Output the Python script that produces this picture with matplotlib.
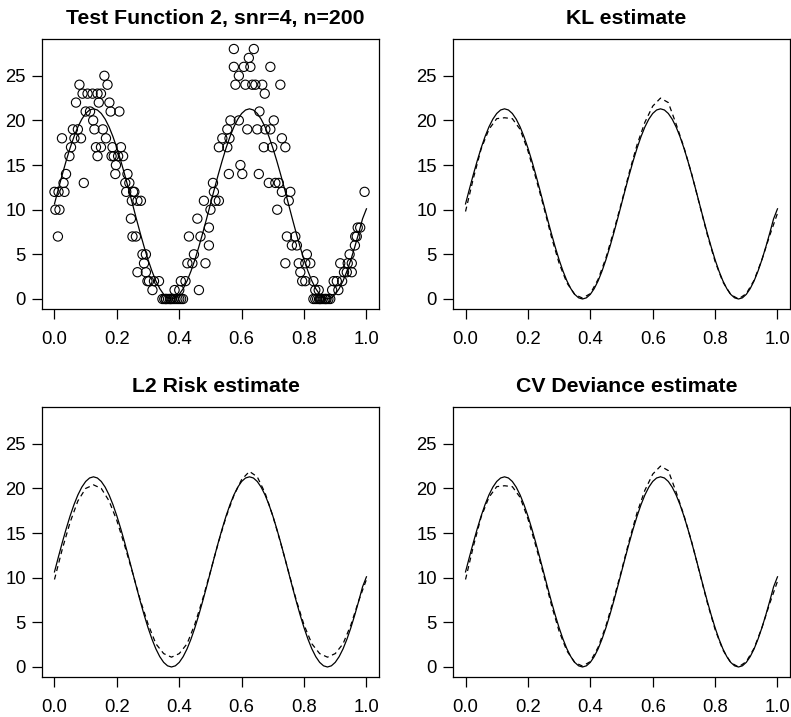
import matplotlib
matplotlib.use("Agg")
import matplotlib.pyplot as plt

plt.rcParams['font.family'] = ['Liberation Sans', 'DejaVu Sans']

# noisy counts
obs_x = [0.000, 0.013, 0.032, 0.003, 0.016, 0.011, 0.024, 0.029, 0.037, 0.048,
         0.053, 0.059, 0.075, 0.064, 0.085, 0.069, 0.080, 0.090, 0.106, 0.122,
         0.138, 0.149, 0.094, 0.114, 0.124, 0.128, 0.155, 0.133, 0.149, 0.138,
         0.160, 0.170, 0.176, 0.180, 0.208, 0.165, 0.186, 0.213, 0.190, 0.204,
         0.220, 0.197, 0.195, 0.234, 0.227, 0.240, 0.256, 0.266, 0.277, 0.245,
         0.250, 0.261, 0.282, 0.293, 0.266, 0.287, 0.298, 0.293, 0.303, 0.319,
         0.335, 0.314, 0.346, 0.352, 0.358, 0.364, 0.370, 0.376, 0.382, 0.388,
         0.394, 0.400, 0.406, 0.412, 0.400, 0.405, 0.420, 0.463, 0.426, 0.442,
         0.484, 0.447, 0.431, 0.468, 0.495, 0.458, 0.495, 0.500, 0.479, 0.516,
         0.527, 0.511, 0.508, 0.559, 0.602, 0.596, 0.527, 0.554, 0.538, 0.561,
         0.554, 0.564, 0.591, 0.618, 0.580, 0.612, 0.591, 0.575, 0.607, 0.575,
         0.639, 0.623, 0.628, 0.692, 0.634, 0.644, 0.666, 0.724, 0.674, 0.657,
         0.703, 0.650, 0.676, 0.692, 0.729, 0.671, 0.698, 0.740, 0.655, 0.687,
         0.708, 0.719, 0.729, 0.756, 0.751, 0.714, 0.745, 0.772, 0.761, 0.777,
         0.809, 0.740, 0.783, 0.804, 0.820, 0.788, 0.794, 0.804, 0.830, 0.836,
         0.847, 0.830, 0.836, 0.842, 0.848, 0.854, 0.860, 0.866, 0.872, 0.878,
         0.884, 0.890, 0.910, 0.895, 0.922, 0.916, 0.953, 0.937, 0.953, 0.964,
         0.969, 0.994, 0.980, 0.972, 0.963, 0.940, 0.946, 0.928, 0.905, 0.357,
         0.372, 0.385, 0.851, 0.869, 0.100, 0.142, 0.183, 0.230, 0.248, 0.252]
obs_y = [12, 12, 12, 10, 10, 7, 18, 13, 14, 16,
         17, 19, 19, 18, 18, 22, 24, 23, 23, 23,
         23, 23, 13, 21, 20, 19, 19, 17, 17, 16,
         25, 24, 22, 21, 21, 18, 17, 17, 16, 16,
         16, 15, 14, 14, 13, 13, 12, 11, 11, 9,
         7, 7, 5, 5, 3, 4, 2, 3, 2, 2,
         2, 1, 0, 0, 0, 0, 0, 0, 0, 0,
         0, 0, 0, 0, 1, 2, 2, 1, 4, 4,
         4, 5, 7, 7, 6, 9, 8, 10, 11, 11,
         11, 12, 13, 14, 14, 15, 17, 17, 18, 18,
         19, 20, 20, 19, 24, 24, 25, 26, 26, 28,
         28, 27, 26, 26, 24, 24, 24, 24, 23, 21,
         20, 19, 19, 19, 18, 17, 17, 17, 14, 13,
         13, 13, 12, 12, 11, 10, 7, 7, 6, 6,
         5, 4, 4, 4, 4, 3, 2, 2, 2, 1,
         1, 0, 0, 0, 0, 0, 0, 0, 0, 0,
         0, 1, 1, 2, 2, 4, 4, 3, 3, 7,
         7, 12, 8, 8, 6, 4, 5, 3, 2, 0,
         0, 1, 0, 0, 21, 22, 16, 12, 11, 12]

# true mean curve read at steps of 0.0125
fine_x = [i / 80 for i in range(81)]
true_f = [10.65, 12.32, 13.94, 15.48, 16.91, 18.18, 19.27, 20.14, 20.78, 21.17,
          21.3, 21.17, 20.78, 20.14, 19.27, 18.18, 16.91, 15.48, 13.94, 12.32,
          10.65, 8.98, 7.36, 5.82, 4.39, 3.12, 2.03, 1.16, 0.52, 0.13,
          0.0, 0.13, 0.52, 1.16, 2.03, 3.12, 4.39, 5.82, 7.36, 8.98,
          10.65, 12.32, 13.94, 15.48, 16.91, 18.18, 19.27, 20.14, 20.78, 21.17,
          21.3, 21.17, 20.78, 20.14, 19.27, 18.18, 16.91, 15.48, 13.94, 12.32,
          10.65, 8.98, 7.36, 5.82, 4.39, 3.12, 2.03, 1.16, 0.52, 0.13,
          0.0, 0.13, 0.52, 1.16, 2.03, 3.12, 4.39, 5.82, 7.36, 8.98, 10.1]

# estimates read at steps of 0.025
grid_x = [i / 40 for i in range(41)]
kl_est = [9.8, 13.5, 16.8, 19.0, 20.2, 20.3, 20.2, 19.0, 16.6, 13.6,
          10.4, 7.0, 4.0, 1.8, 0.5, 0.1, 0.6, 2.2, 4.6, 7.6,
          10.8, 14.2, 17.3, 19.8, 21.6, 22.5, 22.0, 19.6, 17.0, 14.0,
          10.6, 7.2, 4.2, 1.9, 0.5, 0.0, 0.6, 2.1, 4.4, 7.1, 9.6]
l2_est = [9.8, 13.2, 16.2, 18.6, 20.0, 20.4, 20.0, 18.6, 16.4, 13.6,
          10.6, 7.5, 4.8, 2.6, 1.5, 1.1, 1.5, 2.6, 4.8, 7.6,
          10.7, 13.9, 16.8, 19.2, 21.0, 21.9, 21.3, 19.5, 16.9, 13.9,
          10.7, 7.5, 4.7, 2.6, 1.5, 1.1, 1.5, 2.6, 4.7, 7.4, 9.8]
cv_est = [9.8, 13.5, 16.8, 19.0, 20.2, 20.3, 20.2, 19.0, 16.6, 13.6,
          10.4, 7.0, 4.0, 1.8, 0.5, 0.1, 0.6, 2.2, 4.6, 7.6,
          10.8, 14.2, 17.3, 19.8, 21.6, 22.5, 22.0, 19.6, 17.0, 14.0,
          10.6, 7.2, 4.2, 1.9, 0.5, 0.0, 0.6, 2.1, 4.4, 7.1, 9.6]

titles = ["Test Function 2, snr=4, n=200", "KL estimate",
          "L2 Risk estimate", "CV Deviance estimate"]
estimates = [None, kl_est, l2_est, cv_est]

fig, axs = plt.subplots(2, 2, figsize=(7.91, 7.17), dpi=100)
fig.subplots_adjust(left=0.0531, right=0.9987, bottom=0.0558, top=0.9456,
                    wspace=0.22, hspace=0.363)

for ax, title, est in zip(axs.flat, titles, estimates):
    if est is None:
        ax.scatter(obs_x, obs_y, s=44, facecolors='none', edgecolors='black',
                   linewidths=0.8, zorder=3)
    else:
        ax.plot(grid_x, est, color='black', lw=0.9, linestyle=(0, (4, 3)))
    ax.plot(fine_x, true_f, color='black', lw=0.9)
    ax.set_xlim(-0.04, 1.04)
    ax.set_ylim(-1.12, 29.12)
    ax.set_xticks([0.0, 0.2, 0.4, 0.6, 0.8, 1.0])
    ax.set_xticklabels(["0.0", "0.2", "0.4", "0.6", "0.8", "1.0"])
    ax.set_yticks([0, 5, 10, 15, 20, 25])
    ax.tick_params(axis='x', length=7.5, width=0.9, pad=8, labelsize=13.3)
    ax.tick_params(axis='y', length=7.5, width=0.9, pad=4, labelsize=13.3)
    for sp in ax.spines.values():
        sp.set_linewidth(0.9)
    ax.set_title(title, fontsize=15.3, fontweight='bold', pad=10.5, x=0.515)

plt.savefig("out.png", dpi=100)
